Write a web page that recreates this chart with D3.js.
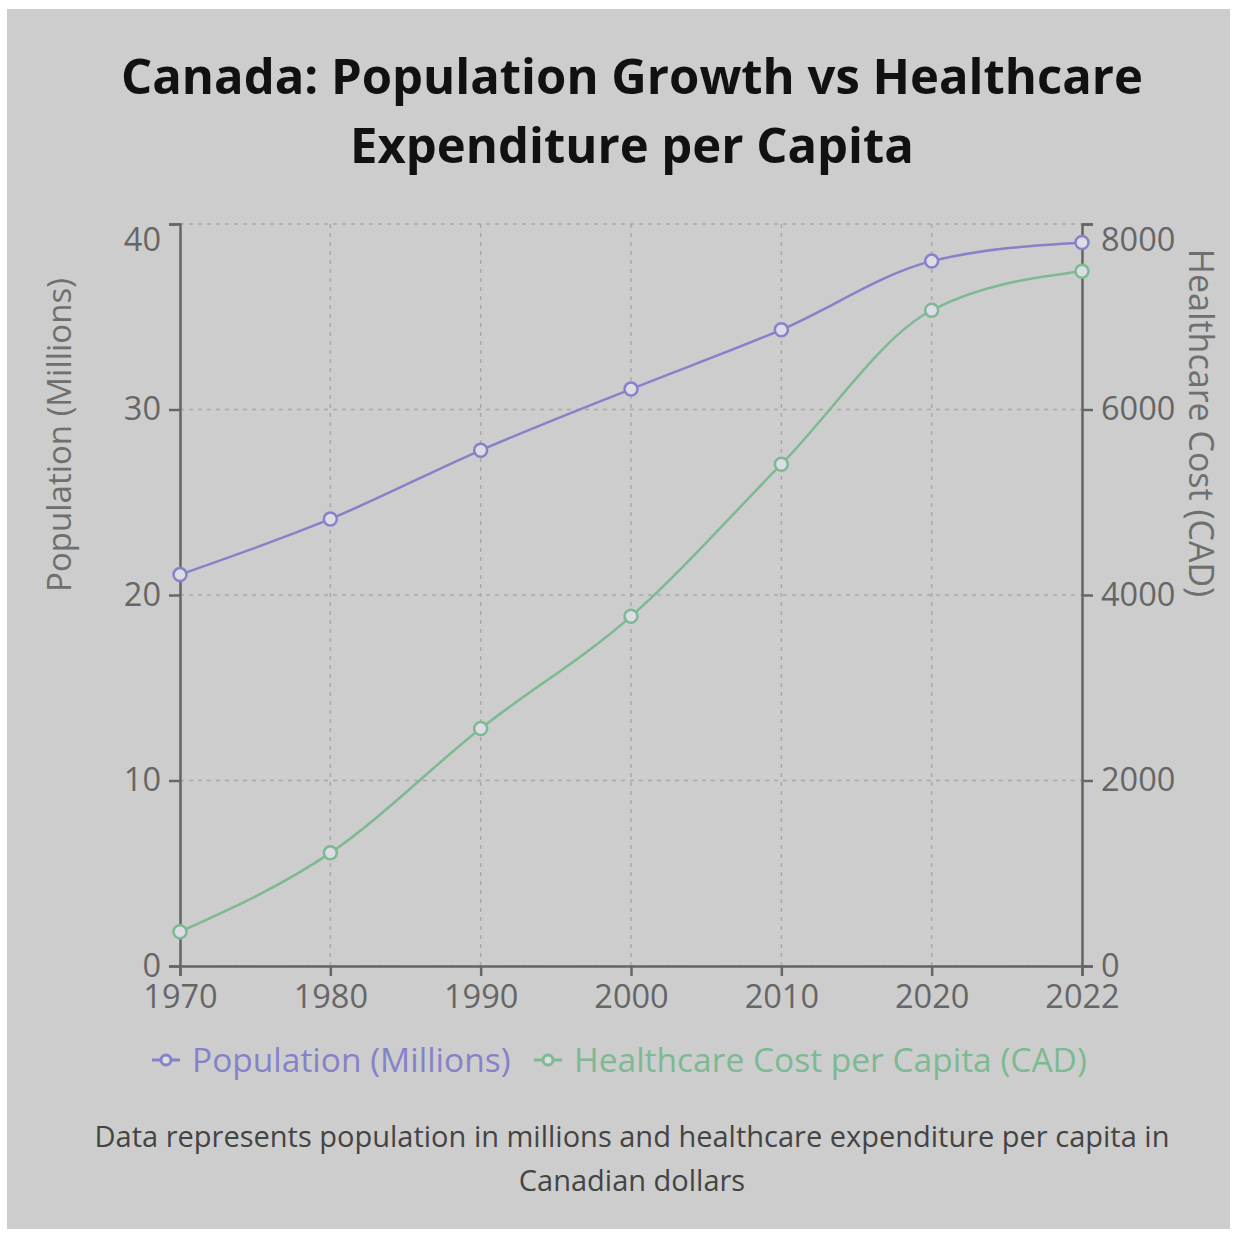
<!DOCTYPE html>
<html>
<head>
<meta charset="utf-8">
<script src="https://cdn.jsdelivr.net/npm/d3@7"></script>
<style>
	body { margin: 0; background: #fff; }
	svg { display: block; }
</style>
</head>
<body>
<div id="chart"></div>
<script>
// chart values
var years = ["1970", "1980", "1990", "2000", "2010", "2020", "2022"];
var population = [21.1, 24.1, 27.8, 31.1, 34.3, 38.0, 39.0];
var healthcare = [370, 1220, 2560, 3770, 5410, 7070, 7490];
var popTicks = [0, 10, 20, 30, 40];
var costTicks = [0, 2000, 4000, 6000, 8000];

var width = 1236, height = 1234;
var plotLeft = 180, plotRight = 1082, plotTop = 224, plotBottom = 966;
var purple = "#8682c9", green = "#7db992", font = "'Open Sans', sans-serif";

var svg = d3.select("#chart").append("svg")
	.attr("width", width).attr("height", height);

svg.append("rect")
	.attr("x", 7).attr("y", 9)
	.attr("width", width - 13).attr("height", height - 14)
	.attr("fill", "#cdcdcd");

// title
svg.append("text")
	.attr("text-anchor", "middle")
	.attr("font-family", font).attr("font-weight", "bold")
	.attr("font-size", 49).attr("fill", "#111")
	.selectAll("tspan")
	.data(["Canada: Population Growth vs Healthcare", "Expenditure per Capita"]).enter()
	.append("tspan")
	.attr("x", 632).attr("y", (d, i) => 94 + i * 69)
	.text(d => d);

var x = d3.scalePoint().domain(years).range([plotLeft, plotRight]);
var y = d3.scaleLinear().domain([0, 40]).range([plotBottom, plotTop]);
var y2 = d3.scaleLinear().domain([0, 8000]).range([plotBottom, plotTop]);

// grid
var grid = svg.append("g")
	.attr("stroke", "#a9a9a9").attr("stroke-dasharray", "4 5").attr("stroke-width", 1.5);
grid.selectAll("line.h")
	.data(popTicks).enter()
	.append("line").attr("class", "h")
	.attr("x1", plotLeft).attr("x2", plotRight)
	.attr("y1", d => y(d)).attr("y2", d => y(d));
grid.selectAll("line.v")
	.data(years).enter()
	.append("line").attr("class", "v")
	.attr("x1", d => x(d)).attr("x2", d => x(d))
	.attr("y1", plotTop).attr("y2", plotBottom);

function styleAxis(g) {
	g.selectAll("path, line").attr("stroke", "#666").attr("stroke-width", 2.5);
	g.selectAll("text").attr("fill", "#666").attr("font-family", font).attr("font-size", 32.5);
}

svg.append("g")
	.attr("transform", "translate(0," + plotBottom + ")")
	.call(d3.axisBottom(x).tickSizeOuter(0).tickSize(10).tickPadding(9))
	.call(styleAxis);

svg.append("g")
	.attr("transform", "translate(" + plotLeft + ",0)")
	.call(d3.axisLeft(y).tickValues(popTicks).tickSize(11).tickSizeOuter(11).tickPadding(8))
	.call(styleAxis)
	.selectAll(".tick text").filter(d => d === 40).attr("dy", "0.82em");

svg.append("g")
	.attr("transform", "translate(" + plotRight + ",0)")
	.call(d3.axisRight(y2).tickValues(costTicks).tickFormat(d3.format("d"))
		.tickSize(11).tickSizeOuter(11).tickPadding(8))
	.call(styleAxis)
	.selectAll(".tick text").filter(d => d === 8000).attr("dy", "0.82em");

// axis titles
svg.append("text")
	.attr("transform", "translate(71,435)rotate(-90)")
	.attr("text-anchor", "middle")
	.attr("font-family", font).attr("font-size", 33).attr("fill", "#6f6f6f")
	.text("Population (Millions)");
svg.append("text")
	.attr("transform", "translate(1189,423)rotate(90)")
	.attr("text-anchor", "middle")
	.attr("font-family", font).attr("font-size", 34).attr("fill", "#6f6f6f")
	.text("Healthcare Cost (CAD)");

// lines
var series = [
	{ values: population, scale: y, color: purple },
	{ values: healthcare, scale: y2, color: green }
];
series.forEach(s => {
	var line = d3.line()
		.x((d, i) => x(years[i]))
		.y(d => s.scale(d))
		.curve(d3.curveMonotoneX);
	svg.append("path")
		.attr("d", line(s.values))
		.attr("fill", "none").attr("stroke", s.color).attr("stroke-width", 2.5);
	svg.append("g").selectAll("circle")
		.data(s.values).enter()
		.append("circle")
		.attr("cx", (d, i) => x(years[i]))
		.attr("cy", d => s.scale(d))
		.attr("r", 6.5)
		.attr("fill", "#dcdce4").attr("stroke", s.color).attr("stroke-width", 2.5);
});

// legend
var legendItems = [
	{ name: "Population (Millions)", color: purple, x: 152 },
	{ name: "Healthcare Cost per Capita (CAD)", color: green, x: 534 }
];
var legend = svg.append("g").selectAll("g")
	.data(legendItems).enter()
	.append("g")
	.attr("transform", d => "translate(" + d.x + ",1060)");
legend.append("line")
	.attr("x1", 0).attr("x2", 28)
	.attr("stroke", d => d.color).attr("stroke-width", 3);
legend.append("circle")
	.attr("cx", 14).attr("r", 5)
	.attr("fill", "#dcdce4").attr("stroke", d => d.color).attr("stroke-width", 3);
legend.append("text")
	.attr("x", 40).attr("y", 12)
	.attr("font-family", font).attr("font-size", 33.5)
	.attr("fill", d => d.color)
	.text(d => d.name);

// note
svg.append("text")
	.attr("text-anchor", "middle")
	.attr("font-family", font).attr("font-size", 29).attr("fill", "#444")
	.selectAll("tspan")
	.data(["Data represents population in millions and healthcare expenditure per capita in", "Canadian dollars"]).enter()
	.append("tspan")
	.attr("x", 632).attr("y", (d, i) => 1147 + i * 44)
	.text(d => d);
</script>
</body>
</html>
